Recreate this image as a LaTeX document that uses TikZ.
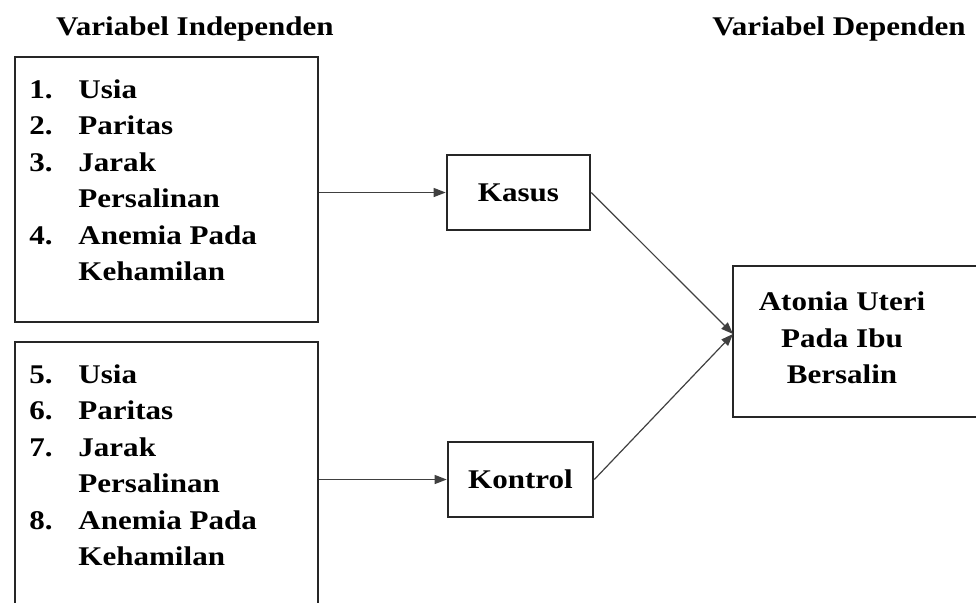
\documentclass[tikz,border=0pt]{standalone}
\usepackage{fontspec}
\setmainfont{Liberation Serif}[FakeStretch=1.15]
\usetikzlibrary{positioning,arrows.meta}

\tikzset{
  frame/.style={draw=black!85, line width=1.3pt, inner sep=0pt},
  txt/.style={font=\fontsize{13.5}{18.25}\selectfont\bfseries, inner sep=0pt},
  conn/.style={draw=black!75, line width=0.6pt, -{Triangle[length=6pt,width=4.5pt]}}
}

\begin{document}
\begin{tikzpicture}[x=0.5pt,y=-0.5pt]
                \useasboundingbox (0,0) rectangle (976,602);
                \clip (0,0) rectangle (976,602);

                \node[txt, anchor=base] (hindep) at (195,35)  {Variabel Independen};
                \node[txt, anchor=base] (hdep)   at (839,35)  {Variabel Dependen};

                \node[frame, minimum width=151.5pt, minimum height=132.5pt] (box1) at (166.5,189.5) {};
                \node[frame, minimum width=151.5pt, minimum height=150pt]   (box2) at (166.5,492)   {};

                \node[txt, anchor=base west] (list1) at (29,98)
                  {\begin{tabular}[t]{@{}p{24.5pt}@{}l@{}}
                     1. & Usia\\ 2. & Paritas\\ 3. & Jarak\\ & Persalinan\\ 4. & Anemia Pada\\ & Kehamilan
                   \end{tabular}};
                \node[txt, anchor=base west] (list2) at (29,383)
                  {\begin{tabular}[t]{@{}p{24.5pt}@{}l@{}}
                     5. & Usia\\ 6. & Paritas\\ 7. & Jarak\\ & Persalinan\\ 8. & Anemia Pada\\ & Kehamilan
                   \end{tabular}};

                \node[frame, txt, draw, minimum width=71.5pt, minimum height=37.5pt] (kasus)   at (518.5,192.5) {Kasus};
                \node[frame, txt, draw, minimum width=72.5pt, minimum height=37.5pt] (kontrol) at (520.5,479.5) {Kontrol};

                \node[frame, minimum width=140pt, minimum height=75.5pt] (dep) at (873,341.5) {};
                \node[txt, align=center] (deptext) at (842,338) {Atonia Uteri\\Pada Ibu\\Bersalin};
                \coordinate (tip) at (733,334);

                \path
                (box1.east |- kasus.west)   edge[conn] (kasus.west)
                (box2.east |- kontrol.west) edge[conn] (kontrol.west)
                (kasus.east)                edge[conn] (tip)
                (kontrol.east)              edge[conn] (tip);
            \end{tikzpicture}
\end{document}
